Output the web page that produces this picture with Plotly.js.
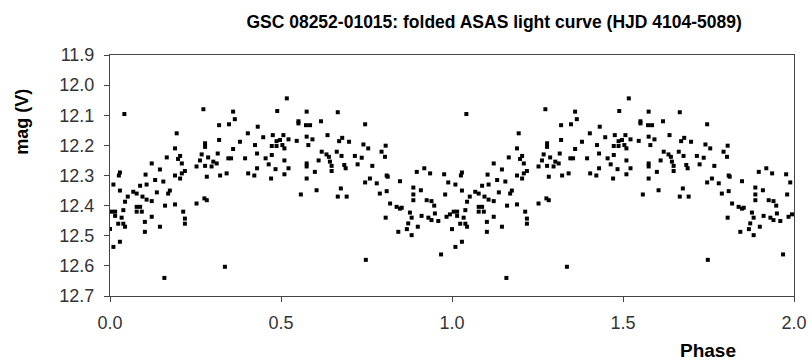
<!DOCTYPE html>
<html><head><meta charset="utf-8">
<script src="https://cdn.plot.ly/plotly-3.0.1.min.js"></script>
<style>html,body{margin:0;padding:0;background:#fff}#chart{width:810px;height:363px}</style>
</head><body><div id="chart"></div>
<script>
// Folded light curve: phase (0-1) and V magnitude
const phase = [0.042,0.195,0.19,0.166,0.199,0.122,0.146,0.104,0.029,0.026,0.19,0.132,0.156,0.01,0.088,0.107,0.029,0.068,0.078,0.175,0.17,0.137,0.052,0.095,0.122,0.107,0.044,0.161,0.19,0.078,0.088,0.039,0.078,0.093,0.005,0.015,0.015,0.122,0.034,0.102,0.024,0.039,0.044,0.146,0.0,0.102,0.029,0.01,0.159,
0.273,0.36,0.365,0.348,0.319,0.403,0.319,0.38,0.278,0.278,0.36,0.315,0.268,0.205,0.287,0.346,0.354,0.395,0.263,0.302,0.312,0.21,0.278,0.297,0.253,0.219,0.21,0.404,0.205,0.322,0.341,0.283,0.276,0.283,0.253,0.214,0.219,0.219,0.336,
0.517,0.489,0.575,0.551,0.551,0.573,0.585,0.432,0.448,0.476,0.507,0.497,0.487,0.522,0.546,0.575,0.592,0.424,0.473,0.487,0.504,0.51,0.58,0.43,0.473,0.455,0.51,0.575,0.575,0.61,0.464,0.43,0.484,0.522,0.599,0.422,0.51,0.471,0.575,0.604,0.558,
0.666,0.617,0.746,0.636,0.679,0.67,0.699,0.741,0.755,0.806,0.619,0.633,0.64,0.663,0.677,0.716,0.736,0.794,0.804,0.643,0.648,0.685,0.689,0.724,0.767,0.648,0.809,0.812,0.76,0.746,0.78,0.809,0.789,0.675,0.666,0.692,0.819,0.806,0.748,
0.897,0.919,0.936,0.977,0.848,0.989,0.887,0.909,0.887,0.887,0.98,0.926,0.94,0.948,0.838,0.848,0.853,0.877,0.911,0.95,0.882,0.931,0.94,0.96,0.984,0.994,0.872,0.9,0.868,0.843,0.882,0.968];
const mag = [12.096,12.16,12.21,12.24,12.245,12.26,12.28,12.297,12.29,12.30,12.30,12.315,12.32,12.33,12.334,12.33,12.35,12.354,12.36,12.35,12.36,12.356,12.37,12.37,12.385,12.38,12.387,12.40,12.396,12.404,12.404,12.415,12.42,12.42,12.42,12.42,12.434,12.437,12.44,12.454,12.46,12.46,12.47,12.47,12.478,12.487,12.52,12.537,12.64,
12.08,12.088,12.113,12.13,12.133,12.16,12.182,12.188,12.193,12.205,12.212,12.227,12.23,12.235,12.24,12.243,12.243,12.243,12.25,12.254,12.26,12.26,12.268,12.27,12.27,12.285,12.293,12.293,12.31,12.30,12.293,12.304,12.376,12.382,12.393,12.42,12.443,12.46,12.603,
12.044,12.086,12.088,12.12,12.127,12.133,12.133,12.138,12.173,12.166,12.166,12.182,12.186,12.18,12.185,12.171,12.18,12.199,12.202,12.202,12.199,12.21,12.199,12.227,12.232,12.243,12.25,12.26,12.27,12.25,12.263,12.276,12.279,12.276,12.288,12.30,12.296,12.31,12.31,12.349,12.363,
12.09,12.12,12.13,12.166,12.175,12.186,12.188,12.197,12.21,12.201,12.221,12.23,12.238,12.221,12.235,12.235,12.241,12.221,12.238,12.254,12.268,12.265,12.276,12.263,12.268,12.285,12.30,12.304,12.31,12.323,12.326,12.352,12.36,12.343,12.37,12.37,12.393,12.44,12.58,
12.288,12.276,12.293,12.296,12.319,12.323,12.34,12.349,12.363,12.382,12.363,12.382,12.385,12.40,12.404,12.41,12.407,12.423,12.434,12.426,12.44,12.44,12.448,12.451,12.437,12.429,12.459,12.47,12.478,12.487,12.498,12.562];

// the curve is plotted over two cycles: phase and phase + 1
const xs = phase.concat(phase.map(p => p + 1));
const ys = mag.concat(mag);

const xTicks = [0, 0.5, 1.0, 1.5, 2.0];
const xTickText = ['0.0', '0.5', '1.0', '1.5', '2.0'];
const yTicks = [11.9, 12.0, 12.1, 12.2, 12.3, 12.4, 12.5, 12.6, 12.7];
const yTickText = ['11.9', '12.0', '12.1', '12.2', '12.3', '12.4', '12.5', '12.6', '12.7'];

const font = 'Arial, "Liberation Sans", sans-serif';
Plotly.newPlot('chart', [{
  x: xs, y: ys, type: 'scatter', mode: 'markers',
  marker: {symbol: 'square', size: 4, color: '#000'},
  hoverinfo: 'skip'
}], {
  width: 810, height: 363,
  margin: {l: 110, r: 16, t: 55, b: 67},
  paper_bgcolor: '#fff', plot_bgcolor: '#fff',
  showlegend: false,
  title: {text: 'GSC 08252-01015: folded ASAS light curve (HJD 4104-5089)',
    font: {family: font, size: 17.5, color: '#000', weight: 'bold'},
    x: 0.61, xanchor: 'center', y: 0.94, yanchor: 'middle'},
  xaxis: {range: [0, 2], tickvals: xTicks, ticktext: xTickText, showgrid: false, zeroline: false,
    showline: true, linecolor: '#444', linewidth: 1, mirror: true,
    ticks: 'outside', ticklen: 5, tickcolor: '#444', ticklabelstandoff: 5,
    tickfont: {family: font, size: 18, color: '#333'}},
  yaxis: {range: [12.7, 11.9], tickvals: yTicks, ticktext: yTickText, showgrid: false, zeroline: false,
    showline: true, linecolor: '#444', linewidth: 1, mirror: true,
    ticks: 'outside', ticklen: 5, tickcolor: '#444', ticklabelstandoff: 6,
    tickfont: {family: font, size: 18, color: '#333'}},
  annotations: [
    {text: '<b>mag (V)</b>', xref: 'paper', yref: 'paper', x: -0.129, y: 0.722, textangle: -90,
     showarrow: false, xanchor: 'center', yanchor: 'middle', font: {family: font, size: 18, color: '#000'}},
    {text: '<b>Phase</b>', xref: 'paper', yref: 'paper', x: 0.874, y: -0.225,
     showarrow: false, xanchor: 'center', yanchor: 'middle', font: {family: font, size: 19, color: '#000'}}
  ]
}, {displayModeBar: false, staticPlot: true});
</script></body></html>
